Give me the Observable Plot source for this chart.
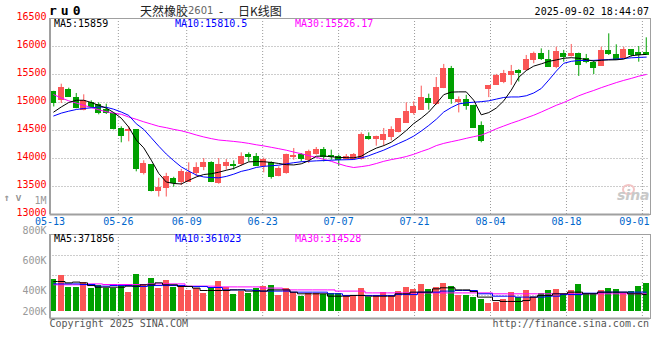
<!DOCTYPE html>
<html><head><meta charset="utf-8">
<script src="https://cdn.jsdelivr.net/npm/d3@7"></script>
<script src="https://cdn.jsdelivr.net/npm/@observablehq/plot@0.6"></script>
<style>
html,body{margin:0;padding:0;background:#fff;}
#wrap{position:relative;width:660px;height:360px;overflow:hidden;background:#fff;}
.pl{position:absolute;left:0;}
.t{position:absolute;white-space:nowrap;line-height:12px;font-family:"DejaVu Sans Mono",monospace;font-size:10px;}
svg rect{shape-rendering:crispEdges;}
</style></head><body>
<div id="wrap">
<div id="price" class="pl" style="top:0"></div>
<div id="vol" class="pl" style="top:190px"></div>
<div class="t" style="left:49px;top:3px;font-size:13px;font-weight:bold;letter-spacing:4px;line-height:16px;color:#000">ru0</div>
<div class="t" style="left:140px;top:3px;font-family:'Noto Sans CJK SC';font-size:12px;line-height:15px;color:#222">天然橡胶</div>
<div class="t" style="left:188px;top:5px;font-family:'DejaVu Sans';font-size:10px;color:#666">2601</div>
<div class="t" style="left:219px;top:3px;font-family:'Noto Sans CJK SC';font-size:12px;line-height:15px;color:#222">-</div>
<div class="t" style="left:238px;top:3px;font-family:'Noto Sans CJK SC';font-size:12px;line-height:15px;color:#222">日K线图</div>
<div class="t" style="right:11px;top:6px;color:#000">2025-09-02 18:44:07</div>
<div class="t" style="left:54px;top:18px;color:#000">MA5:15859</div>
<div class="t" style="left:175px;top:18px;color:#00f">MA10:15810.5</div>
<div class="t" style="left:295px;top:18px;color:#f0f">MA30:15526.17</div>
<div class="t" style="left:54px;top:233px;color:#000">MA5:371856</div>
<div class="t" style="left:175px;top:233px;color:#00f">MA10:361023</div>
<div class="t" style="left:295px;top:233px;color:#f0f">MA30:314528</div>
<div class="t" style="left:49.5px;top:317.5px;color:#555">Copyright 2025 SINA.COM</div>
<div class="t" style="right:11px;top:317.5px;color:#555">http://finance.sina.com.cn</div>
<div class="t" style="left:622px;top:184px;width:9px;height:7px;border:2px solid #f3c4c4;border-radius:50%"></div>
<div class="t" style="left:617px;top:188px;font-family:'DejaVu Sans';font-style:italic;font-weight:bold;font-size:14px;line-height:14px;color:#c9c9c9">sina</div>
</div>
<script>
// ---------------- data ----------------
const N = 80;
const open  = [15190,15042,15220,15089,14863,14994,14958,14863,14792,14524, 14494,14506,13735,13882,13412,13471,13629,13576,13588,13735, 13841,13923,13559,13863,13887,13899,14054,14018,13875,13911, 13685,13744,14018,14060,13970,14077,14149,14042,14030,13994, 14000,14000,14387,14351,14339,14387,14476,14637,14804,14875, 15071,14982,15265,15603,15004,15040,14933,14577,15247,15306, 15366,15484,15561,15585,15763,15870,15751,15632,15858,15822, 15870,15775,15714,15649,15911,15851,15792,15940,15887,15887];
const high  = [15200,15327,15256,15161,15137,15030,14994,14970,14804,14566, 14566,14506,13959,13882,13647,13735,13665,13806,13923,13923, 14000,13941,14000,13982,13958,14101,14101,14089,14006,13940, 13851,14077,14179,14089,14149,14196,14196,14149,14060,14071, 14089,14458,14458,14399,14536,14566,14697,14994,15012,15292, 15149,15446,15680,15644,15099,15128,14950,14654,15288,15502, 15573,15662,15585,15840,15900,15958,15930,15988,15930,16036, 15882,15858,15750,15988,16226,16030,15988,15940,16000,16155];
const low   = [14920,14982,15089,14887,14851,14899,14780,14786,14510,14280, 14298,13762,13706,13404,13312,13312,13488,13518,13571,13676, 13782,13570,13540,13792,13792,13863,13940,13863,13744,13631, 13673,13720,13970,13940,13911,14060,13940,13970,13863,13970, 13970,13970,14327,14220,14220,14315,14458,14625,14774,14863, 14863,14952,15247,14968,14814,14862,14535,14280,15087,15306, 15336,15306,15366,15561,15692,15751,15632,15603,15721,15810, 15466,15692,15500,15643,15840,15750,15780,15810,15720,15840];
const close = [14995,15256,15101,14905,15018,14923,14816,14804,14524,14405, 14512,13810,13900,13412,13471,13676,13559,13753,13747,13824, 13912,13588,13882,13923,13863,14018,14018,13875,13970,13661, 13804,14054,14042,14000,14113,14149,14018,14018,13970,14030, 14060,14417,14351,14387,14423,14506,14697,14833,14923,15083, 14994,15262,15603,15057,15040,14933,14553,14316,15288,15466, 15502,15544,15526,15763,15870,15780,15632,15899,15810,15870, 15662,15721,15613,15911,15870,15762,15940,15857,15851,15851];
const ma5  = [14830,14920,15000,15040,15040,15000,14950,14900,14820,14720, 14560,14330,14190,13970,13733,13580,13554,13545,13610,13670, 13714,13728,13755,13790,13822,13880,13940,13945,13942,13930, 13911,13890,13885,13905,13960,14040,14045,14030,14020,14015, 14012,14040,14120,14185,14230,14290,14390,14500,14625,14720, 14830,14980,15140,15185,15190,15190,15040,14780,14820,14900, 15030,15220,15450,15570,15650,15690,15735,15760,15790,15800, 15790,15765,15740,15755,15760,15762,15775,15835,15850,15859];
const ma10 = [14760,14810,14845,14875,14893,14905,14920,14915,14880,14830, 14770,14620,14520,14370,14220,14080,13960,13850,13775,13705, 13670,13660,13655,13680,13720,13770,13800,13840,13860,13870, 13881,13905,13925,13942,13950,13958,13963,13970,13975,13978, 13982,14010,14050,14100,14149,14210,14270,14330,14400,14490, 14590,14700,14830,14910,14975,14995,15005,15015,15030,15060, 15090,15099,15099,15120,15170,15250,15400,15560,15700,15735, 15750,15751,15752,15760,15768,15776,15785,15798,15805,15810.5];
const ma30 = [15140,15080,15030,14990,14950,14910,14870,14835,14810,14790, 14740,14700,14655,14615,14575,14550,14520,14495,14460,14420, 14385,14355,14330,14318,14305,14290,14270,14245,14225,14200, 14175,14148,14115,14085,14050,14020,13985,13950,13905,13865, 13839,13855,13875,13910,13950,13980,14005,14035,14075,14125, 14170,14230,14270,14300,14328,14360,14390,14417,14470,14530, 14580,14630,14675,14725,14773,14830,14890,14950,15000,15060, 15120,15170,15215,15265,15310,15355,15395,15430,15470,15500];
// volume, thousands of lots
const vol  = [473,500,420,420,451,413,433,413,413,429, 384,504,433,480,413,467,420,427,400,413, 380,411,460,420,373,393,380,413,427,433, 367,411,389,362,378,378,371,378,378,367, 367,416,356,367,384,367,393,422,407,440, 407,422,444,427,367,367,356,340,316,322, 340,387,356,400,356,382,400,407,367,400, 440,378,378,400,416,407,378,396,427,447];
const vma5 = [460,460,451,456,451,433,422,422,422,422, 429,429,438,438,451,438,438,427,427,416, 400,400,400,400,404,404,396,396,396,404, 404,404,389,378,378,378,378,362,362,362, 367,367,362,362,362,362,378,378,389,389, 389,411,418,418,404,404,393,356,356,333, 327,327,327,333,356,367,367,378,378,389, 389,378,378,389,389,389,389,378,378,373];
const vma10= [444,444,444,444,440,440,429,429,433,433, 433,427,427,433,433,433,433,433,427,427, 427,420,420,404,404,404,404,400,396,396, 396,396,389,389,389,389,389,378,378,367, 367,367,367,367,367,367,373,373,373,389, 389,389,396,396,400,400,400,378,378,362, 362,362,356,356,356,356,362,362,373,373, 373,382,382,389,389,389,389,389,389,389];
const vma30= [438,438,438,438,438,444,444,440,440,440, 440,440,440,444,444,444,444,444,429,429, 429,429,424,424,424,424,424,424,416,416, 416,404,404,404,404,404,404,404,396,396, 396,396,384,384,384,384,384,384,384,384, 384,384,384,384,384,384,384,384,384,378, 378,378,378,378,378,378,378,378,378,378, 378,378,378,378,378,378,378,378,378,378];
const volFloor = 260;          // bars rise from this level (thousands)
const tickIdx = [0,9,18,28,38,48,58,68,78];
const tickLabels = ["05-13","05-26","06-09","06-23","07-07","07-21","08-04","08-18","09-01"];
const priceTicks = [13000,13500,14000,14500,15000,15500,16000,16500];
const volTicks = [1000,800,600,400,200];
const volGrid = [366.7,500,633.3];

// ---------------- build ----------------
const UP = "#fa5656", DOWN = "#00a000";
const candles = d3.range(N).map(i => ({i, o: open[i], h: high[i], l: low[i], c: close[i], col: close[i] >= open[i] ? UP : DOWN}));
const vols = d3.range(N).map(i => ({i, v: vol[i], col: candles[i].col}));
const lines = (arrs) => arrs.map(a => a.map((v, i) => ({i, v})));
const [m5, m10, m30] = lines([ma5, ma10, ma30]);
const [vm5, vm10, vm30] = lines([vma5, vma10, vma30]);
// Sina spaces its date grid at width/(N-1)
const gridPos = tickIdx.map(k => k * N / (N - 1));
const labelOf = new Map(gridPos.map((g, j) => [g, tickLabels[j]]));
const F = "DejaVu Sans Mono";
const GRID = {stroke: "#9a9a9a", strokeOpacity: 1, strokeDasharray: "1,2"};
const cx = d => d.i + 0.5;

const price = Plot.plot({
  width: 660, height: 230,
  marginLeft: 49.5, marginRight: 10.5, marginTop: 18, marginBottom: 16,
  style: {background: "transparent", overflow: "visible", fontFamily: F, fontSize: "10px"},
  x: {domain: [0, N], axis: null},
  y: {domain: [13000, 16500], axis: null},
  marks: [
    Plot.gridY(priceTicks.slice(1, -1), GRID),
    Plot.gridX(gridPos.slice(1), GRID),
    Plot.ruleX(candles, {x: cx, y1: "l", y2: "h", stroke: "col", strokeWidth: 1}),
    Plot.rect(candles, {x1: d => d.i + 0.1, x2: d => d.i + 0.9, y1: "o", y2: "c", fill: "col", insetTop: -0.5, insetBottom: -0.5}),
    Plot.line(m30, {x: cx, y: "v", stroke: "#ff00ff", strokeWidth: 1}),
    Plot.line(m10, {x: cx, y: "v", stroke: "#0000ff", strokeWidth: 1}),
    Plot.line(m5, {x: cx, y: "v", stroke: "#000", strokeWidth: 1}),
    Plot.frame({stroke: "#a0a0a0"}),
    Plot.ruleX([0], {stroke: "#a0a0a0", strokeWidth: 2}),
    Plot.ruleY([13000], {stroke: "#a0a0a0", strokeWidth: 2}),
    Plot.axisY({ticks: priceTicks, tickSize: 0, tickPadding: 3.5, fill: "#ff0000", fontSize: 10, fontFamily: F, dy: -1.5, tickFormat: d => String(d)}),
    Plot.axisX({ticks: gridPos.slice(0, -1), tickSize: 0, tickPadding: 3, fill: "#0066cc", fontSize: 10, fontFamily: F, tickFormat: d => labelOf.get(d)}),
    Plot.axisX({ticks: gridPos.slice(-1), tickSize: 0, tickPadding: 3, fill: "#0066cc", fontSize: 10, fontFamily: F, dx: -8, tickFormat: d => labelOf.get(d)})
  ]
});
document.getElementById("price").appendChild(price);

const vfmt = d => d >= 1000 ? (d / 1000) + "M" : d + "K";
const volume = Plot.plot({
  width: 660, height: 170,
  marginLeft: 49.5, marginRight: 10.5, marginTop: 40, marginBottom: 40,
  style: {background: "transparent", overflow: "visible", fontFamily: F, fontSize: "10px"},
  x: {domain: [0, N], axis: null},
  y: {domain: [200, 800], axis: null},
  marks: [
    Plot.gridY(volGrid, GRID),
    Plot.gridX(gridPos.slice(1), {...GRID, insetTop: 4, insetBottom: 2}),
    Plot.rect(vols, {x1: d => d.i + 0.1, x2: d => d.i + 0.9, y1: volFloor, y2: "v", fill: "col"}),
    Plot.line(vm30, {x: cx, y: "v", stroke: "#ff00ff", strokeWidth: 1, curve: "step"}),
    Plot.line(vm10, {x: cx, y: "v", stroke: "#0000ff", strokeWidth: 1, curve: "step"}),
    Plot.line(vm5, {x: cx, y: "v", stroke: "#000", strokeWidth: 1, curve: "step"}),
    Plot.frame({stroke: "#a0a0a0", insetTop: 4, insetBottom: 2}),
    Plot.ruleX([0], {stroke: "#a0a0a0", strokeWidth: 2, insetTop: 4, insetBottom: 2}),
    Plot.ruleY([200], {stroke: "#a0a0a0", strokeWidth: 2, dy: -2}),
    Plot.axisY({ticks: volTicks.slice(0, -1), tickSize: 0, tickPadding: 3.5, fill: "#999", fontSize: 10, fontFamily: F, tickFormat: vfmt}),
    Plot.axisY({ticks: volTicks.slice(-1), tickSize: 0, tickPadding: 3.5, fill: "#999", fontSize: 10, fontFamily: F, dy: -9, tickFormat: vfmt})
  ]
});
document.getElementById("vol").appendChild(volume);
</script>
</body></html>
